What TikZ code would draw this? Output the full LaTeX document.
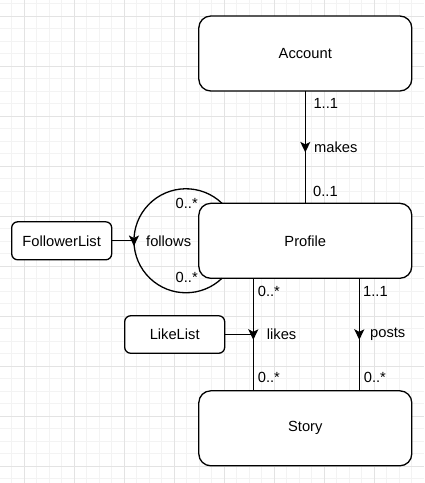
\documentclass[tikz,border=0pt]{standalone}
\usepackage{fontspec}
\setmainfont{Liberation Sans}
\usetikzlibrary{arrows.meta,decorations.markings}
\definecolor{gridminor}{HTML}{F3F3F3}
\definecolor{gridmajor}{HTML}{E3E3E3}
\tikzset{
  entity/.style={draw, fill=white, line width=1.3pt, rounded corners=12pt,
    minimum width=213pt, minimum height=75pt, outer sep=0pt},
  listbox/.style={draw, fill=white, line width=1.3pt, rounded corners=6pt,
    minimum width=100pt, minimum height=38pt, outer sep=0pt},
  rel/.style={draw, line width=1.3pt, postaction={decorate},
    decoration={markings, mark=at position 0.5 with
      {\arrow[xshift=5.25pt]{Stealth[length=10.5pt,width=10pt,inset=2.5pt]}}}},
  card/.style={inner sep=0pt, anchor=west},
}
\begin{document}
\begin{tikzpicture}[x=1pt, y=-1pt, font=\fontsize{14.7}{17}\selectfont]
  \useasboundingbox (0,0) rectangle (424,483);
  % grid
  \foreach \k in {-1,...,31} \draw[gridminor, line width=1pt] ({24.3+12.5*\k},0) -- ++(0,483);
  \foreach \k in {-1,...,37} \draw[gridminor, line width=1pt] (0,{16+12.5*\k}) -- ++(424,0);
  \foreach \k in {0,...,7} \draw[gridmajor, line width=1pt] ({24.3+50*\k},0) -- ++(0,483);
  \foreach \k in {0,...,9} \draw[gridmajor, line width=1pt] (0,{16+50*\k}) -- ++(424,0);

  % classes
  \node[entity] (Account) at (305.3,53.5) {Account};
  \node[entity] (Profile) at (305.3,240.8) {Profile};
  \node[entity] (Story) at (305.3,428.3) {Story};
  \node[listbox] (FollowerList) at (61.7,240.8) {FollowerList};
  \node[listbox, minimum height=37.5pt] (LikeList) at (174.7,334.5) {LikeList};

  % makes
  \draw[rel] (Account) -- (Profile);
  \node[card] (makesA) at (313.3,103) {1..1};
  \node[card] (makes) at (314,147) {makes};
  \node[card] (makesB) at (313,191.7) {0..1};

  % follows
  \coordinate (followsW) at (134.5,240.8);
  \draw[rel] ([xshift=23.2pt]Profile.north west) arc[start angle=-46.1, end angle=-313.9, radius=52];
  \draw[line width=1.3pt] (FollowerList.east) -- (followsW);
  \node[card, anchor=east] (followsA) at (198,203) {0..*};
  \node[card] (follows) at (146,241.7) {follows};
  \node[card, anchor=east] (followsB) at (198,277.7) {0..*};

  % likes
  \coordinate (likesA) at ([xshift=54.5pt]Profile.south west);
  \coordinate (likesB) at ([xshift=54.5pt]Story.north west);
  \draw[rel] (likesA) -- (likesB);
  \draw[line width=1.3pt] (LikeList.east) -- (LikeList.east -| likesA);
  \node[card] (likesC) at (257.7,291.7) {0..*};
  \node[card] (likes) at (266.7,334) {likes};
  \node[card] (likesD) at (257.7,377.3) {0..*};

  % posts
  \coordinate (postsA) at ([xshift=160.5pt]Profile.south west);
  \coordinate (postsB) at ([xshift=160.5pt]Story.north west);
  \draw[rel] (postsA) -- (postsB);
  \node[card] (postsC) at (363,291.7) {1..1};
  \node[card] (posts) at (370,334) {posts};
  \node[card] (postsD) at (363.7,377.3) {0..*};
\end{tikzpicture}
\end{document}
